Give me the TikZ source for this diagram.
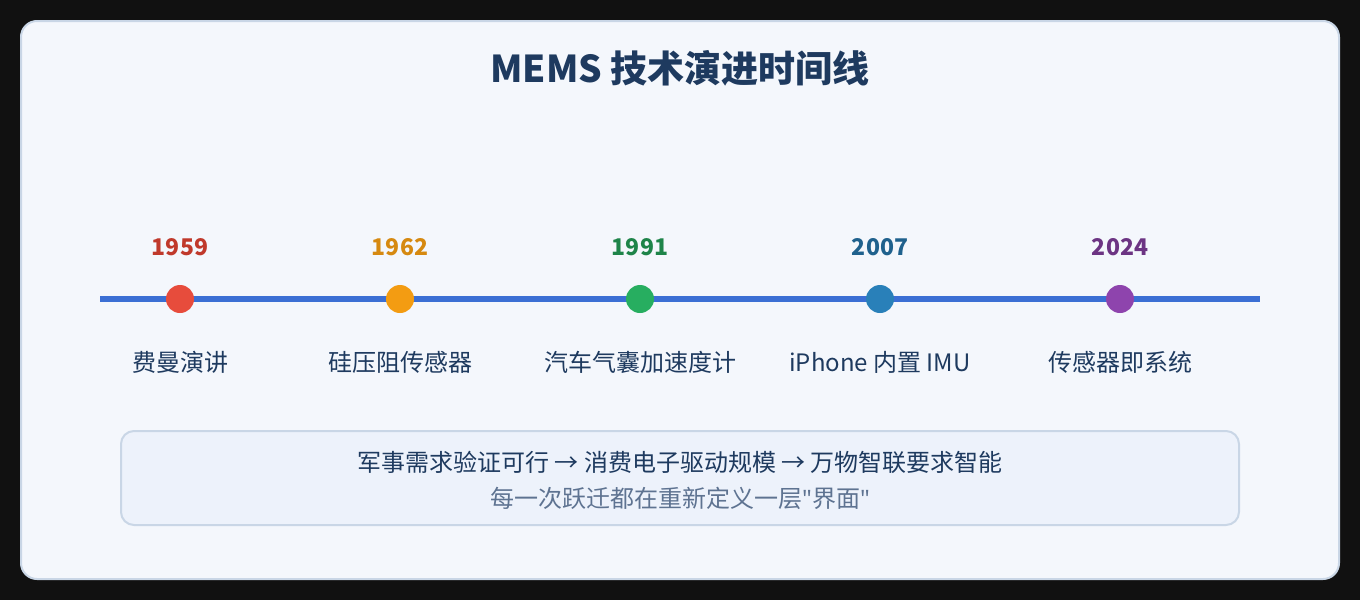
\documentclass[tikz,border=0pt]{standalone}
\usepackage{fontspec}
\setmainfont{Noto Sans CJK SC}
\newfontfamily\latinfont{Noto Sans}
\usetikzlibrary{positioning}
\definecolor{pagebg}{HTML}{111111}
\definecolor{panelfill}{HTML}{F4F7FC}
\definecolor{panelline}{HTML}{C9D6E6}
\definecolor{titleblue}{HTML}{1E3A5F}
\definecolor{lineblue}{HTML}{3B6FD4}
\definecolor{notefill}{HTML}{EDF2FB}
\definecolor{notegray}{HTML}{5E7391}
\definecolor{cA}{HTML}{E74C3C}
\definecolor{cB}{HTML}{F39C12}
\definecolor{cC}{HTML}{27AE60}
\definecolor{cD}{HTML}{2980B9}
\definecolor{cE}{HTML}{8E44AD}
\definecolor{tA}{HTML}{C0392B}
\definecolor{tB}{HTML}{D68910}
\definecolor{tC}{HTML}{1E8449}
\definecolor{tD}{HTML}{1F618D}
\definecolor{tE}{HTML}{6C3483}
\def\myyear{52}
\def\mylabel{63}
\tikzset{
x=1pt,y=-1pt,
panel/.style={fill=panelfill,draw=panelline,line width=2pt,rounded corners=16pt},
note/.style={fill=notefill,draw=panelline,line width=2pt,rounded corners=13pt},
title/.style={font=\fontsize{37}{43}\selectfont\bfseries,text=titleblue},
dot/.style={circle,fill=#1,minimum size=28pt,inner sep=0pt},
year/.style={font=\fontsize{23}{27}\selectfont\bfseries,text=#1},
evt/.style={font=\fontsize{24}{28}\selectfont,text=titleblue},
line1/.style={font=\fontsize{24}{28}\selectfont,text=titleblue},
line2/.style={font=\fontsize{24}{28}\selectfont,text=notegray},
}
\begin{document}
\begin{tikzpicture}
\fill[pagebg] (0,0) rectangle (1360,600);
\draw[panel] (21,21) rectangle (1339,579);
\node[title] (ttl) at (680,68) {MEMS 技术演进时间线};
% timeline
\coordinate (tl0) at (100,299);
\coordinate (tl1) at (1260,299);
\draw[lineblue,line width=6pt] (tl0) -- (tl1);
\node[dot=cA] (d1) at (180,299) {};
\node[dot=cB] (d2) at (400,299) {};
\node[dot=cC] (d3) at (640,299) {};
\node[dot=cD] (d4) at (880,299) {};
\node[dot=cE] (d5) at (1120,299) {};
\node[year=tA] (y1) at ([yshift=\myyear]d1) {1959};
\node[year=tB] (y2) at ([yshift=\myyear]d2) {1962};
\node[year=tC] (y3) at ([yshift=\myyear]d3) {1991};
\node[year=tD] (y4) at ([yshift=\myyear]d4) {2007};
\node[year=tE] (y5) at ([yshift=\myyear]d5) {2024};
\node[evt] (e1) at ([yshift=-\mylabel]d1) {费曼演讲};
\node[evt] (e2) at ([yshift=-\mylabel]d2) {硅压阻传感器};
\node[evt] (e3) at ([yshift=-\mylabel]d3) {汽车气囊加速度计};
\node[evt] (e4) at ([yshift=-\mylabel]d4) {iPhone 内置 IMU};
\node[evt] (e5) at ([yshift=-\mylabel]d5) {传感器即系统};
% summary box
\draw[note] (121,431) rectangle (1239,525);
\node[line1] (n1) at (680,462) {军事需求验证可行 → 消费电子驱动规模 → 万物智联要求智能};
\node[line2] (n2) at (680,498) {每一次跃迁都在重新定义一层{\latinfont "}界面{\latinfont "}};
\end{tikzpicture}
\end{document}
